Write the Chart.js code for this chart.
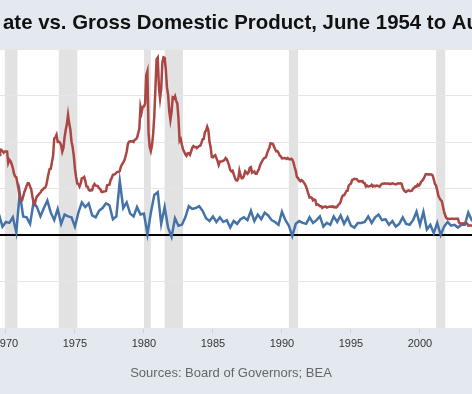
<!DOCTYPE html>
<html>
<head>
<meta charset="utf-8">
<script src="https://cdn.jsdelivr.net/npm/chart.js@4.4.0/dist/chart.umd.min.js"></script>
<style>
  html, body { margin: 0; padding: 0; background: #e4e9f0; }
  #wrap { width: 472px; height: 394px; }
</style>
</head>
<body>
<div id="wrap"><canvas id="chart" width="472" height="394"></canvas></div>
<script>
// effective fed funds rate, monthly, Jan 1969 .. Dec 2004
const fedFundsStart = 1969;
const fedFunds = [
  6.30, 6.61, 6.79, 7.41, 8.67, 8.90, 8.61, 9.19, 9.15, 9.00, 8.85, 8.97, // 1969
  8.98, 8.98, 7.76, 8.10, 7.95, 7.61, 7.21, 6.61, 6.29, 6.20, 5.60, 4.90,
  4.14, 3.72, 3.71, 4.16, 4.63, 4.91, 5.31, 5.57, 5.55, 5.20, 4.91, 4.14,
  3.50, 3.29, 3.83, 4.17, 4.27, 4.46, 4.55, 4.80, 4.87, 5.04, 5.06, 5.33,
  5.94, 6.58, 7.09, 7.12, 7.84, 8.49, 10.40, 10.50, 10.78, 10.01, 10.03, 9.95,
  9.65, 8.97, 9.35, 10.51, 11.31, 11.93, 12.92, 12.01, 11.34, 10.06, 9.45, 8.53,
  7.13, 6.24, 5.54, 5.49, 5.22, 5.55, 6.10, 6.14, 6.24, 5.82, 5.22, 5.20, // 1975
  4.87, 4.77, 4.84, 4.82, 5.29, 5.48, 5.31, 5.29, 5.25, 5.02, 4.95, 4.65,
  4.61, 4.68, 4.69, 4.73, 5.35, 5.39, 5.42, 5.90, 6.14, 6.47, 6.51, 6.56,
  6.70, 6.78, 6.79, 6.89, 7.36, 7.60, 7.81, 8.04, 8.45, 8.96, 9.76, 10.03,
  10.07, 10.06, 10.09, 10.01, 10.24, 10.29, 10.47, 10.94, 11.43, 13.77, 13.18, 13.78,
  13.82, 14.13, 17.19, 17.61, 10.98, 9.47, 9.03, 9.61, 10.87, 12.81, 15.85, 18.90, // 1980
  19.08, 15.93, 14.70, 15.72, 18.52, 19.10, 19.04, 17.82, 15.87, 15.08, 13.31, 12.37,
  13.22, 14.78, 14.68, 14.94, 14.45, 14.15, 12.59, 10.12, 10.31, 9.71, 9.20, 8.95,
  8.68, 8.51, 8.77, 8.80, 8.63, 8.98, 9.37, 9.56, 9.45, 9.48, 9.34, 9.47,
  9.56, 9.59, 9.91, 10.29, 10.32, 11.06, 11.23, 11.64, 11.30, 9.99, 9.43, 8.38,
  8.35, 8.50, 8.58, 8.27, 7.97, 7.53, 7.88, 7.90, 7.92, 7.99, 8.05, 8.27, // 1985
  8.14, 7.86, 7.48, 6.99, 6.85, 6.92, 6.56, 6.17, 5.89, 5.85, 6.04, 6.91,
  6.43, 6.10, 6.13, 6.37, 6.85, 6.73, 6.58, 6.73, 7.22, 7.29, 6.69, 6.77,
  6.83, 6.58, 6.58, 6.87, 7.09, 7.51, 7.75, 8.01, 8.19, 8.30, 8.35, 8.76,
  9.12, 9.36, 9.85, 9.84, 9.81, 9.53, 9.24, 8.99, 9.02, 8.84, 8.55, 8.45,
  8.23, 8.24, 8.28, 8.26, 8.18, 8.29, 8.15, 8.13, 8.20, 8.11, 7.81, 7.31, // 1990
  6.91, 6.25, 6.12, 5.91, 5.78, 5.90, 5.82, 5.66, 5.45, 5.21, 4.81, 4.43,
  4.03, 4.06, 3.98, 3.73, 3.82, 3.76, 3.25, 3.30, 3.22, 3.10, 3.09, 2.92,
  3.02, 3.03, 3.07, 2.96, 3.00, 3.04, 3.06, 3.03, 3.09, 2.99, 3.02, 2.96,
  3.05, 3.25, 3.34, 3.56, 4.01, 4.25, 4.26, 4.47, 4.73, 4.76, 5.29, 5.45,
  5.53, 5.92, 5.98, 6.05, 6.01, 6.00, 5.85, 5.74, 5.80, 5.76, 5.80, 5.60, // 1995
  5.56, 5.22, 5.31, 5.22, 5.24, 5.27, 5.40, 5.22, 5.30, 5.24, 5.31, 5.29,
  5.25, 5.19, 5.39, 5.51, 5.50, 5.56, 5.52, 5.54, 5.54, 5.50, 5.52, 5.50,
  5.56, 5.51, 5.49, 5.45, 5.49, 5.56, 5.54, 5.55, 5.51, 5.07, 4.83, 4.68,
  4.63, 4.76, 4.81, 4.74, 4.74, 4.76, 4.99, 5.07, 5.22, 5.20, 5.42, 5.30,
  5.45, 5.73, 5.85, 6.02, 6.27, 6.53, 6.54, 6.50, 6.52, 6.51, 6.51, 6.40, // 2000
  5.98, 5.49, 5.31, 4.80, 4.21, 3.97, 3.77, 3.65, 3.07, 2.49, 2.09, 1.82,
  1.73, 1.74, 1.73, 1.75, 1.75, 1.75, 1.73, 1.74, 1.75, 1.75, 1.34, 1.24,
  1.24, 1.26, 1.25, 1.26, 1.26, 1.22, 1.01, 1.03, 1.01, 1.01, 1.00, 0.98,
  1.00, 1.01, 1.00, 1.00, 1.00, 1.03, 1.26, 1.43, 1.61, 1.76, 1.93, 2.16
];

// GDP, percent change from previous quarter, 1969 Q2 .. 2004 Q2
const gdpStart = 1969.25;
const gdpGrowth = [
  1.7, 2.2, 0.9,                // 1969
  1.4, 1.3, 1.9, 0.3,
  4.5, 2.0, 1.9, 1.2,
  3.5, 3.0, 2.0, 2.9,
  3.7, 2.4, 1.6, 2.8,
  1.2, 2.2, 2.0, 1.9,
  0.9, 2.4, 3.5, 3.0,           // 1975
  3.4, 2.1, 1.9, 2.6,
  2.9, 3.4, 3.2, 1.7,
  2.0, 5.8, 2.9, 3.5,
  2.3, 2.0, 3.0, 2.2,
  2.3, 0.1, 2.4, 4.3,           // 1980
  4.6, 1.2, 3.0, 0.8,
  -0.2, 1.8, 1.0, 1.1,
  1.9, 3.1, 2.8, 2.9,
  3.1, 2.6, 1.8, 1.5,
  2.0, 1.4, 1.9, 1.4,           // 1985
  1.6, 0.8, 1.5, 1.2,
  1.7, 1.9, 1.6, 2.6,
  1.5, 2.2, 1.7, 2.4,
  2.1, 1.6, 1.4, 1.1,
  2.5, 1.6, 1.0, -0.1,          // 1990
  1.2, 1.5, 1.3, 1.2,
  1.9, 1.3, 1.6, 2.0,
  0.9, 1.3, 1.1, 2.0,
  1.4, 2.1, 1.2, 1.9,
  1.0, 0.8, 1.3, 1.3,           // 1995
  1.4, 2.0, 1.3, 1.9,
  2.2, 1.6, 1.7, 1.1,
  1.5, 0.9, 1.2, 1.9,
  1.2, 1.1, 1.6, 2.5,
  1.1, 2.5, 0.6, 1.1,           // 2000
  0.2, 1.3, 0.0, 0.9,
  1.4, 1.0, 1.1, 0.8,
  1.1, 1.1, 2.4, 1.6,
  1.8, 1.7
];

const recessions = [
  [1969.92, 1970.83], [1973.83, 1975.17], [1980.0, 1980.5],
  [1981.5, 1982.83], [1990.5, 1991.17], [2001.17, 2001.83]
];
const xTicks = [1970, 1975, 1980, 1985, 1990, 1995, 2000];

const fedPoints = fedFunds.map((v, i) => ({ x: fedFundsStart + i / 12, y: v }));
const gdpPoints = gdpGrowth.map((v, i) => ({ x: gdpStart + i / 4, y: v }));

const backdrop = {
  id: 'backdrop',
  beforeDraw(chart) {
    const { ctx, chartArea: a, scales: { x } } = chart;
    ctx.save();
    ctx.fillStyle = '#e4e9f0';
    ctx.fillRect(0, 0, chart.width, chart.height);
    ctx.fillStyle = '#ffffff';
    ctx.fillRect(a.left, a.top, a.right - a.left, a.bottom - a.top);
    ctx.fillStyle = '#e2e2e2';
    recessions.forEach(([s, e]) => {
      const x0 = Math.max(x.getPixelForValue(s), a.left);
      const x1 = Math.min(x.getPixelForValue(e), a.right);
      if (x1 > x0) ctx.fillRect(x0, a.top, x1 - x0, a.bottom - a.top);
    });
    ctx.restore();
  },
  afterDraw(chart) {
    const ctx = chart.ctx;
    ctx.save();
    ctx.fillStyle = '#111';
    ctx.font = 'bold 20.4px "Liberation Sans", Arial, sans-serif';
    ctx.textAlign = 'left';
    ctx.textBaseline = 'alphabetic';
    ctx.fillText('ate vs. Gross Domestic Product, June 1954 to Au', 3, 29);
    ctx.fillStyle = '#666';
    ctx.font = '13px "Liberation Sans", Arial, sans-serif';
    ctx.textAlign = 'center';
    ctx.fillText('Sources: Board of Governors; BEA', 231, 377);
    ctx.restore();
  }
};

new Chart(document.getElementById('chart'), {
  type: 'line',
  data: {
    datasets: [
      { label: 'Federal Funds Rate', data: fedPoints, borderColor: '#aa4643', borderWidth: 2.5, pointRadius: 0, tension: 0 },
      { label: 'GDP', data: gdpPoints, borderColor: '#4572a7', borderWidth: 2.5, pointRadius: 0, tension: 0 }
    ]
  },
  options: {
    responsive: false,
    animation: false,
    devicePixelRatio: 1,
    layout: { padding: { top: 49, left: 0, right: 0, bottom: 0 } },
    plugins: { legend: { display: false }, tooltip: { enabled: false } },
    scales: {
      x: {
        type: 'linear',
        min: 1969.57,
        max: 2003.77,
        afterFit: s => { s.height = 66; s.paddingLeft = 0; s.paddingRight = 0; },
        afterBuildTicks: s => { s.ticks = xTicks.map(v => ({ value: v })); },
        border: { display: false },
        grid: { drawOnChartArea: false, drawTicks: true, tickLength: 5, color: '#c8d2e0' },
        ticks: { padding: 4, color: '#333', font: { size: 11, family: '"Liberation Sans", Arial' }, callback: v => String(v), maxRotation: 0 }
      },
      y: {
        min: -10,
        max: 20,
        afterFit: s => { s.width = 0; s.paddingTop = 0; s.paddingBottom = 0; },
        border: { display: false },
        ticks: { display: false, stepSize: 5 },
        grid: {
          drawTicks: false,
          color: c => c.tick && c.tick.value === 0 ? '#000' : '#e6e6e6',
          lineWidth: c => c.tick && c.tick.value === 0 ? 2 : 1
        }
      }
    }
  },
  plugins: [backdrop]
});
</script>
</body>
</html>
